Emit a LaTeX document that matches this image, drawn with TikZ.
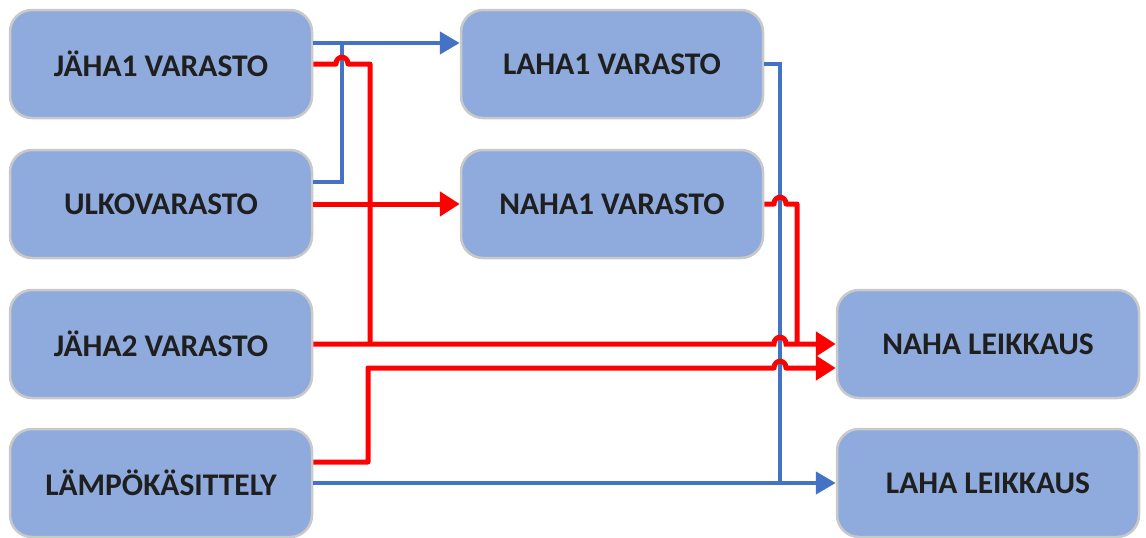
\documentclass[tikz,border=0pt]{standalone}
\usepackage{fontspec}
\setmainfont{Carlito}
\usetikzlibrary{arrows.meta}
\definecolor{boxfill}{HTML}{8FAADC}
\definecolor{boxedge}{HTML}{C9C9C9}
\definecolor{bluec}{HTML}{4472C4}
\definecolor{redc}{HTML}{FF0000}
\tikzset{
  box/.style={draw=boxedge, line width=2.5pt, fill=boxfill, rounded corners=22pt,
    minimum width=302pt, minimum height=108pt, inner sep=0pt,
    font=\fontsize{31.5}{34}\selectfont\bfseries, text=black!88},
  bline/.style={draw=bluec, line width=4.5pt},
  rline/.style={draw=redc, line width=5pt},
  barrow/.style={bline, -{Triangle[length=20pt,width=22pt]}},
  rarrow/.style={rline, -{Triangle[length=20pt,width=24pt]}},
}
\begin{document}
\begin{tikzpicture}[x=1pt,y=-1pt]
\useasboundingbox (0,0) rectangle (1146,538);
% nodes
\node[box] (j1) at (161,64) {JÄHA1 VARASTO};
\node[box] (uv) at (161,204) {ULKOVARASTO};
\node[box] (j2) at (161,344) {JÄHA2 VARASTO};
\node[box] (lk) at (161,483) {LÄMPÖKÄSITTELY};
\node[box] (l1) at (612,64) {LAHA1 VARASTO};
\node[box] (n1) at (612,204) {NAHA1 VARASTO};
\node[box] (nl) at (988,344) {NAHA LEIKKAUS};
\node[box] (ll) at (988,483) {LAHA LEIKKAUS};
% helper coordinates
\coordinate (bj) at (342,43);
\coordinate (bv) at (780,483);
\coordinate (r1) at (370,344);
\coordinate (r5) at (797,344);
% blue connectors
\draw[barrow] ([yshift=21pt]j1.east) -- ([yshift=21pt]l1.west);
\draw[bline] ([yshift=22pt]uv.east) -| (bj);
\draw[bline] (l1.east) -| (bv);
\draw[barrow] (lk.east) -- (ll.west);
% red connectors
\draw[rline, line join=round] (j1.east) -- (336,64) .. controls (336,55) and (348,55) .. (348,64) -| (r1);
\draw[rarrow] (uv.east) -- (n1.west);
\draw[rarrow] (j2.east) -- (774,344) .. controls (774,335) and (786,335) .. (786,344) -- (nl.west);
\draw[rline, line join=round] (n1.east) -- (774,204) .. controls (774,195) and (786,195) .. (786,204) -| (r5);
\draw[rarrow, line join=round] ([yshift=21pt]lk.east) -| (368,368) -- (774,368) .. controls (774,359) and (786,359) .. (786,368) -- ([yshift=-24pt]nl.west);
\end{tikzpicture}
\end{document}
